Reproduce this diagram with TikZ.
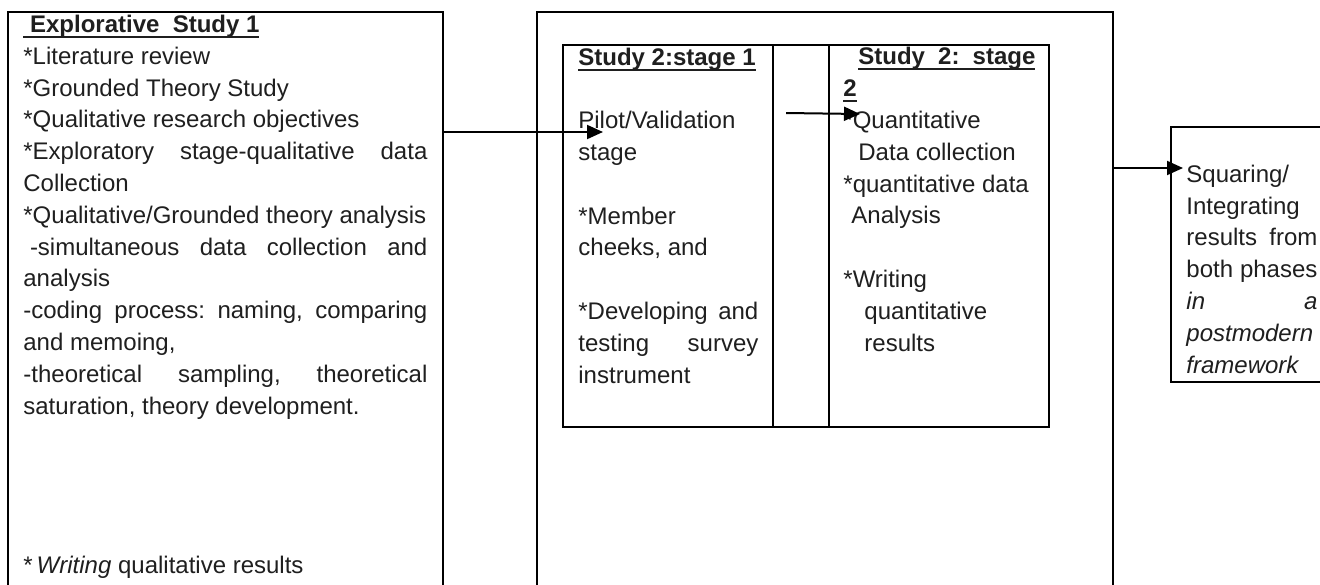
\documentclass[tikz,border=0pt]{standalone}
\usepackage{fontspec}
\setmainfont{Liberation Sans}
\usetikzlibrary{positioning}
\usetikzlibrary{arrows.meta}
\usetikzlibrary{fit}

\newsavebox{\ulbox}
\newcommand{\ulined}[1]{\sbox{\ulbox}{#1}\rlap{\rule[-2.75pt]{\wd\ulbox}{1pt}}\usebox{\ulbox}}
\newcommand{\spreadto}[2]{\makebox[#1][s]{#2}}

\begin{document}
\begin{tikzpicture}[ x    = 0.5pt
                   , y    = -0.5pt
                   , font = \fontsize{12}{15.9}\selectfont\frenchspacing
                   % filled triangle arrow heads
                   , >={Triangle[width=7pt, length=8pt]}
                   ]

  %%
  %% Styles
  %%
  \tikzset{ frame/.style={draw, line width=1pt, inner sep=0pt}
          , txt/.style={anchor=base west, align=left, inner sep=0pt, text=black!88}
          , flow/.style={->, line width=1pt}
          }

  \path[use as bounding box, fill=white] (0,0) rectangle (1320,584);

  %%
  %% Frames
  %%
  \node (s1)  [frame, fit={(8,12) (443,600)}] {};
  \node (s2)  [frame, fit={(537,12) (1113,600)}] {};
  \node (st1) [frame, fit={(563,45) (773,427)}] {};
  \node (gap) [frame, fit={(773,45) (829,427)}] {};
  \node (st2) [frame, fit={(829,45) (1049,427)}] {};
  \node (res) [frame, fit={(1171,127) (1330,382)}] {};

  %%
  %% Texts (placed at the baseline of their last line)
  %%
  \node (t1) [txt] at (23,573)
    {\ulined{\textbf{\ Explorative~ Study 1}}\\
     *Literature review\\
     *Grounded Theory Study\\
     *Qualitative research objectives\\
     \spreadto{202pt}{*Exploratory stage-qualitative data}\\
     Collection\\
     *Qualitative/Grounded theory analysis\\
     \kern3.3pt\spreadto{198.7pt}{-simultaneous data collection and}\\
     analysis\\
     \spreadto{202pt}{-coding process: naming, comparing}\\
     and memoing,\\
     \spreadto{202pt}{-theoretical sampling, theoretical}\\
     saturation, theory development.\\[63.6pt]
     *\,\textit{Writing} qualitative results};

  \node (t2) [txt] at (578,383)
    {\ulined{\textbf{Study 2:stage 1}}\\[15.9pt]
     Pilot/Validation\\
     stage\\[15.9pt]
     *Member\\
     cheeks, and\\[15.9pt]
     \spreadto{90pt}{*Developing and}\\
     \spreadto{90pt}{testing survey}\\
     instrument};

  \node (t3) [txt] at (843,351)
    {\kern7.5pt\ulined{\spreadto{88.5pt}{\textbf{Study~ 2:~ stage}}}\\
     \ulined{\textbf{2}}\\
     *Quantitative\\
     \kern7.5pt Data collection\\
     *quantitative data\\
     \kern4pt Analysis\\[15.9pt]
     *Writing\\
     \kern10.5pt quantitative\\
     \kern10.5pt results};

  \node (t4) [txt] at (1186,373)
    {Squaring/\\
     Integrating\\
     \spreadto{65.5pt}{results from}\\
     \spreadto{65.5pt}{both phases}\\
     \spreadto{65.5pt}{\textit{in a}}\\
     \textit{postmodern}\\
     \textit{framework}};

  %%
  %% Arrows
  %%
  \coordinate (a1)  at (603,132);
  \coordinate (a2s) at (786,113);
  \coordinate (a2)  at (860,114);
  \coordinate (a3)  at (1183,168);

  \draw[flow] (a1 -| s1.east) -- (a1);
  \draw[flow] (a2s) -- (a2);
  \draw[flow] (a3 -| s2.east) -- (a3);

\end{tikzpicture}
\end{document}
